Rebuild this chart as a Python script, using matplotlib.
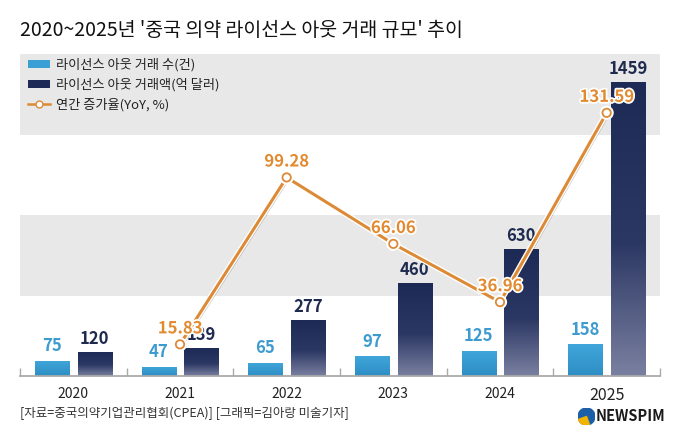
import matplotlib
matplotlib.use("Agg")
import matplotlib.pyplot as plt
import matplotlib.patheffects as pe
from matplotlib.colors import LinearSegmentedColormap
from matplotlib.lines import Line2D
from matplotlib.patches import Patch, Circle, Wedge
import numpy as np

plt.rcParams["font.family"] = ["Noto Sans CJK KR", "DejaVu Sans"]

YEARS = ["2020", "2021", "2022", "2023", "2024", "2025"]
DEAL_COUNT = [75, 47, 65, 97, 125, 158]
DEAL_VALUE = [120, 139, 277, 460, 630, 1459]
YOY_YEARS = ["2021", "2022", "2023", "2024", "2025"]
YOY_GROWTH = [15.83, 99.28, 66.06, 36.96, 131.59]

TITLE = "2020~2025년 '중국 의약 라이선스 아웃 거래 규모' 추이"
LEGEND_LABELS = ["라이선스 아웃 거래 수(건)", "라이선스 아웃 거래액(억 달러)", "연간 증가율(YoY, %)"]
SOURCE = "[자료=중국의약기업관리협회(CPEA)] [그래픽=김아랑 미술기자]"

LIGHT = "#3a9fd4"
NAVY = "#1e2a56"
ORANGE = "#dd8a36"
LIGHT_TXT = "#3d9bcf"
NAVY_TXT = "#1f2a4f"
ORANGE_TXT = "#e28a2f"
BAND = "#e8e8e8"


def _gradient_fill(ax, bars, cmap):
    grad = np.linspace(0, 1, 256).reshape(-1, 1)
    for bar in bars:
        x, w, h = bar.get_x(), bar.get_width(), bar.get_height()
        im = ax.imshow(grad, extent=[x, x + w, 0, h], origin="lower", aspect="auto",
                       cmap=cmap, zorder=bar.get_zorder() + 0.1)
        im.set_clip_path(bar)


fig = plt.figure(figsize=(6.8, 4.42), dpi=100)
fig.patch.set_facecolor("white")
ax = fig.add_axes([20 / 680, 66 / 442, 640 / 680, 322 / 442])

x = np.arange(len(YEARS))
ax.axhspan(400, 800, color=BAND, zorder=0, lw=0)
ax.axhspan(1200, 1600, color=BAND, zorder=0, lw=0)

light_bars = ax.bar(x - 0.2, DEAL_COUNT, width=0.32, color=LIGHT, zorder=2)
navy_bars = ax.bar(x + 0.2, DEAL_VALUE, width=0.32, color=NAVY, zorder=2)

navy_cmap = LinearSegmentedColormap.from_list(
    "navy", [(0, "#7a80a0"), (0.45, "#2c3864"), (1, NAVY)])
light_cmap = LinearSegmentedColormap.from_list(
    "light", [(0, "#2e8ec4"), (1, "#40a6da")])
_gradient_fill(ax, navy_bars, navy_cmap)
_gradient_fill(ax, light_bars, light_cmap)

for bar, v in zip(light_bars, DEAL_COUNT):
    ax.annotate(f"{v}", (bar.get_x() + bar.get_width() / 2, v), xytext=(0, 4),
                textcoords="offset points", ha="center", va="bottom",
                fontsize=12, fontweight="bold", color=LIGHT_TXT, zorder=5)
for bar, v in zip(navy_bars, DEAL_VALUE):
    ax.annotate(f"{v}", (bar.get_x() + bar.get_width() / 2, v), xytext=(0, 3),
                textcoords="offset points", ha="center", va="bottom",
                fontsize=12, fontweight="bold", color=NAVY_TXT, zorder=5)

ax.set_xlim(-0.5, len(YEARS) - 0.5)
ax.set_ylim(0, 1600)
ax.set_yticks([])
ax.set_xticks(x)
ax.set_xticklabels(YEARS, fontsize=10, color="#222222")
ax.get_xticklabels()[-1].set_fontsize(11.5)
ax.tick_params(axis="x", length=0, pad=8)
ax.set_xticks(np.arange(len(YEARS) + 1) - 0.5, minor=True)
ax.tick_params(axis="x", which="minor", direction="in", length=6, color="#aaaaaa", width=1)
for side in ["top", "left", "right"]:
    ax.spines[side].set_visible(False)
ax.spines["bottom"].set_color("#aaaaaa")
ax.spines["bottom"].set_linewidth(1.3)

ax2 = ax.twinx()
ax2.set_ylim(0, 161)
ax2.set_yticks([])
for side in ["top", "left", "right", "bottom"]:
    ax2.spines[side].set_visible(False)
yoy_x = [YEARS.index(y) for y in YOY_YEARS]
ax2.plot(yoy_x, YOY_GROWTH, color=ORANGE, lw=2.2, marker="o", markersize=6,
         markerfacecolor="white", markeredgecolor=ORANGE, markeredgewidth=1.3, zorder=6,
         path_effects=[pe.SimpleLineShadow(offset=(1, -1), alpha=0.25),
                       pe.Stroke(linewidth=4.2, foreground="white"), pe.Normal()])
for xi, v in zip(yoy_x, YOY_GROWTH):
    ax2.annotate(f"{v:.2f}", (xi, v), xytext=(0, 5), textcoords="offset points",
                 ha="center", va="bottom", fontsize=12, fontweight="bold", color=ORANGE_TXT,
                 zorder=7, path_effects=[pe.withStroke(linewidth=2.5, foreground="white")])

handles = [
    Patch(facecolor=LIGHT, edgecolor="none"),
    Patch(facecolor=NAVY, edgecolor="none"),
    Line2D([0], [0], color=ORANGE, lw=1.8, marker="o", markersize=5,
           markerfacecolor="white", markeredgecolor=ORANGE),
]
fig.legend(handles, LEGEND_LABELS, loc="upper left", bbox_to_anchor=(28 / 680, 1 - 58 / 442),
           frameon=False, fontsize=9.5, handlelength=1.7, handleheight=0.5,
           handletextpad=0.45, labelspacing=0.5, borderpad=0, borderaxespad=0,
           labelcolor="#222222")

fig.text(20 / 680, 1 - 30 / 442, TITLE, fontsize=14, color="#111111", va="center", ha="left")
fig.text(20 / 680, 1 - 413 / 442, SOURCE, fontsize=9, color="#333333", va="center", ha="left")

# NEWSPIM logo
logo = fig.add_axes([578 / 680, 1 - 425 / 442, 17 / 680, 17 / 442])
logo.set_aspect("equal")
logo.set_xlim(-1, 1)
logo.set_ylim(-1, 1)
logo.axis("off")
logo.add_patch(Circle((0, 0), 1, color="#1d5fa6"))
logo.add_patch(Wedge((0, 0), 1, 200, 290, color="#f2b400"))
fig.text(596 / 680, 1 - 416 / 442, "NEWSPIM", fontsize=10.5, fontweight="bold",
         color="#1a1a1a", va="center", ha="left")

fig.savefig("out.png", dpi=100)
